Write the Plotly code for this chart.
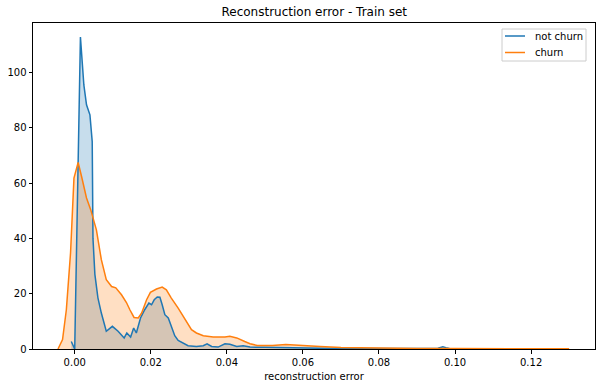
import plotly.graph_objects as go

title = "Reconstruction error - Train set"
x_label = "reconstruction error"
series_names = ["not churn", "churn"]

not_churn_x = [-0.0009, 0.0000, 0.0015, 0.0024, 0.0031, 0.0040, 0.0046, 0.0048, 0.0053, 0.0061,
               0.0070, 0.0083, 0.0099, 0.0114, 0.0130, 0.0137, 0.0147, 0.0155, 0.0162, 0.0173,
               0.0184, 0.0195, 0.0202, 0.0209, 0.0217, 0.0224, 0.0230, 0.0237, 0.0246, 0.0254,
               0.0263, 0.0272, 0.0285, 0.0298, 0.0320, 0.0338, 0.0348, 0.0360, 0.0377, 0.0395,
               0.0408, 0.0426, 0.0443, 0.0461, 0.0500, 0.0550, 0.0600, 0.0650, 0.0700, 0.0800,
               0.0880, 0.0920, 0.0955, 0.0968, 0.0976, 0.0985]
not_churn_y = [2.7, 0.0, 112.8, 95.5, 88.3, 84.7, 75.0, 40.0, 27.0, 18.5,
               13.0, 6.4, 8.2, 6.4, 4.0, 5.8, 4.3, 7.6, 5.8, 11.2,
               14.2, 16.6, 16.0, 17.8, 18.8, 18.7, 16.0, 12.4, 11.2, 8.2,
               4.8, 3.1, 2.2, 1.2, 0.9, 1.2, 1.9, 0.9, 0.7, 1.9,
               1.7, 0.9, 1.2, 0.7, 0.6, 0.4, 0.3, 0.25, 0.15, 0.1,
               0.15, 0.2, 0.3, 0.8, 0.5, 0.2]

churn_x = [-0.0044, -0.0032, -0.0022, -0.0011, -0.0002, 0.0009, 0.0018, 0.0031, 0.0042, 0.0057,
           0.0070, 0.0083, 0.0097, 0.0108, 0.0123, 0.0136, 0.0145, 0.0156, 0.0167, 0.0176,
           0.0189, 0.0199, 0.0215, 0.0230, 0.0241, 0.0254, 0.0272, 0.0289, 0.0307, 0.0320,
           0.0338, 0.0364, 0.0395, 0.0408, 0.0426, 0.0447, 0.0461, 0.0480, 0.0520, 0.0555,
           0.0590, 0.0645, 0.0700, 0.0780, 0.0900, 0.1000, 0.1150, 0.1300]
churn_y = [0.0, 3.4, 14.2, 34.7, 61.8, 67.5, 62.4, 54.6, 50.4, 43.1,
           32.3, 25.1, 22.6, 22.1, 19.6, 16.8, 14.2, 11.4, 11.2, 13.0,
           17.8, 20.5, 21.7, 22.4, 21.4, 18.4, 14.8, 11.2, 7.0, 5.8,
           4.8, 4.3, 4.3, 4.6, 4.0, 2.7, 1.9, 1.3, 1.3, 1.6,
           1.4, 0.9, 0.5, 0.3, 0.2, 0.15, 0.1, 0.05]

x_ticks = [0.00, 0.02, 0.04, 0.06, 0.08, 0.10, 0.12]
y_ticks = [0, 20, 40, 60, 80, 100]

colors = ["#1f77b4", "#ff7f0e"]
fills = ["rgba(31,119,180,0.25)", "rgba(255,127,14,0.25)"]

series = [(series_names[0], not_churn_x, not_churn_y, colors[0], fills[0]),
          (series_names[1], churn_x, churn_y, colors[1], fills[1])]

fig = go.Figure()
# filled areas first
for name, xs, ys, c, f in series:
    fig.add_trace(go.Scatter(x=xs, y=ys, mode="none", fill="tozeroy", fillcolor=f,
                             showlegend=False, hoverinfo="skip"))
# lines on top
for name, xs, ys, c, f in series:
    fig.add_trace(go.Scatter(x=xs, y=ys, mode="lines", name=name,
                             line=dict(color=c, width=1.5), showlegend=False))

# plot area in pixels: left 33, right 595, top 23, bottom 349
PL, PR, PT, PB = 33, 595, 23, 349
def px(xp):
    return (xp - PL) / (PR - PL)
def py(yp):
    return (PB - yp) / (PB - PT)

shapes = [dict(type="rect", xref="paper", yref="paper",
               x0=px(502), x1=px(586), y0=py(61), y1=py(29),
               line=dict(color="#cccccc", width=1), fillcolor="rgba(255,255,255,0.8)",
               layer="above")]
annotations = []
for i, (name, c) in enumerate(zip(series_names, colors)):
    yy = 36 + i * 16.5
    shapes.append(dict(type="line", xref="paper", yref="paper",
                       x0=px(505), x1=px(525), y0=py(yy), y1=py(yy),
                       line=dict(color=c, width=1.5), layer="above"))
    annotations.append(dict(text=name, xref="paper", yref="paper", x=px(533), y=py(yy),
                            xanchor="left", yanchor="middle", showarrow=False,
                            font=dict(family="DejaVu Sans", size=10, color="black")))

axis_common = dict(showline=True, linecolor="black", linewidth=1, mirror=True,
                   ticks="outside", ticklen=3.5, tickwidth=1, tickcolor="black",
                   showgrid=False, zeroline=False,
                   tickfont=dict(family="DejaVu Sans", size=10, color="black"))

fig.update_layout(
    width=602, height=387,
    margin=dict(l=PL, r=602 - PR, t=PT, b=387 - PB),
    plot_bgcolor="white", paper_bgcolor="white",
    font=dict(family="DejaVu Sans", size=10, color="black"),
    title=dict(text=title, x=0.522, xanchor="center", y=1 - 12 / 387, yanchor="middle",
               font=dict(family="DejaVu Sans", size=12, color="black")),
    xaxis=dict(range=[-0.01097, 0.1368], tickvals=x_ticks, tickformat=".2f",
               title=dict(text=x_label, standoff=6,
                          font=dict(family="DejaVu Sans", size=10, color="black")),
               **axis_common),
    yaxis=dict(range=[0, 117.9], tickvals=y_ticks, **axis_common),
    shapes=shapes,
    annotations=annotations,
    showlegend=False,
)

fig.write_html("out.html")
